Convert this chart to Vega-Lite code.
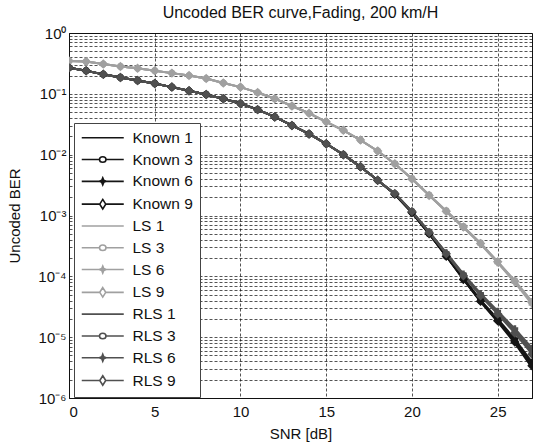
{
  "$schema": "https://vega.github.io/schema/vega-lite/v6.json",
  "width": 463,
  "height": 365,
  "autosize": {"type": "none"},
  "padding": {"left": 69, "top": 33, "right": 5, "bottom": 48},
  "background": "white",
  "title": {"text": "Uncoded BER curve,Fading, 200 km/H", "font": "Liberation Sans", "fontSize": 16, "fontWeight": "normal", "color": "#111", "offset": 5},
  "config": {
    "view": {"stroke": "#111", "strokeWidth": 1},
    "axis": {"labelFont": "Liberation Sans", "titleFont": "Liberation Sans", "labelFontSize": 15, "titleFontSize": 15, "titleFontWeight": "normal", "labelColor": "#111", "titleColor": "#111", "domainColor": "#111", "grid": true, "gridColor": "#111", "gridDash": [3, 2], "gridWidth": 0.8, "gridOpacity": 0.9, "ticks": false, "labelOverlap": false},
    "legend": {"labelFont": "Liberation Sans", "labelFontSize": 15.5, "labelColor": "#111"}
  },
  "data": {"values": [
    {"s":"Known 1","x":0,"y":0.269},{"s":"Known 1","x":1,"y":0.240},{"s":"Known 1","x":2,"y":0.209},{"s":"Known 1","x":3,"y":0.186},{"s":"Known 1","x":4,"y":0.166},{"s":"Known 1","x":5,"y":0.148},{"s":"Known 1","x":6,"y":0.129},{"s":"Known 1","x":7,"y":0.112},{"s":"Known 1","x":8,"y":0.0977},{"s":"Known 1","x":9,"y":0.0832},{"s":"Known 1","x":10,"y":0.0692},{"s":"Known 1","x":11,"y":0.0550},{"s":"Known 1","x":12,"y":0.0417},{"s":"Known 1","x":13,"y":0.0302},{"s":"Known 1","x":14,"y":0.0219},{"s":"Known 1","x":15,"y":0.0151},{"s":"Known 1","x":16,"y":0.0100},{"s":"Known 1","x":17,"y":0.00631},{"s":"Known 1","x":18,"y":0.00380},{"s":"Known 1","x":19,"y":0.00224},{"s":"Known 1","x":20,"y":0.00112},{"s":"Known 1","x":21,"y":5.01e-4},{"s":"Known 1","x":22,"y":2.14e-4},{"s":"Known 1","x":23,"y":8.91e-5},{"s":"Known 1","x":24,"y":3.80e-5},{"s":"Known 1","x":25,"y":1.78e-5},{"s":"Known 1","x":26,"y":7.94e-6},{"s":"Known 1","x":27,"y":3.16e-6},

    {"s":"Known 3","x":0,"y":0.269},{"s":"Known 3","x":1,"y":0.240},{"s":"Known 3","x":2,"y":0.209},{"s":"Known 3","x":3,"y":0.186},{"s":"Known 3","x":4,"y":0.166},{"s":"Known 3","x":5,"y":0.148},{"s":"Known 3","x":6,"y":0.129},{"s":"Known 3","x":7,"y":0.112},{"s":"Known 3","x":8,"y":0.0977},{"s":"Known 3","x":9,"y":0.0832},{"s":"Known 3","x":10,"y":0.0692},{"s":"Known 3","x":11,"y":0.0550},{"s":"Known 3","x":12,"y":0.0417},{"s":"Known 3","x":13,"y":0.0302},{"s":"Known 3","x":14,"y":0.0219},{"s":"Known 3","x":15,"y":0.0151},{"s":"Known 3","x":16,"y":0.0100},{"s":"Known 3","x":17,"y":0.00631},{"s":"Known 3","x":18,"y":0.00380},{"s":"Known 3","x":19,"y":0.00224},{"s":"Known 3","x":20,"y":0.00112},{"s":"Known 3","x":21,"y":5.01e-4},{"s":"Known 3","x":22,"y":2.14e-4},{"s":"Known 3","x":23,"y":9.12e-5},{"s":"Known 3","x":24,"y":3.98e-5},{"s":"Known 3","x":25,"y":1.91e-5},{"s":"Known 3","x":26,"y":8.71e-6},{"s":"Known 3","x":27,"y":3.63e-6},

    {"s":"Known 6","x":0,"y":0.269},{"s":"Known 6","x":1,"y":0.240},{"s":"Known 6","x":2,"y":0.209},{"s":"Known 6","x":3,"y":0.186},{"s":"Known 6","x":4,"y":0.166},{"s":"Known 6","x":5,"y":0.148},{"s":"Known 6","x":6,"y":0.129},{"s":"Known 6","x":7,"y":0.112},{"s":"Known 6","x":8,"y":0.0977},{"s":"Known 6","x":9,"y":0.0832},{"s":"Known 6","x":10,"y":0.0692},{"s":"Known 6","x":11,"y":0.0550},{"s":"Known 6","x":12,"y":0.0417},{"s":"Known 6","x":13,"y":0.0302},{"s":"Known 6","x":14,"y":0.0219},{"s":"Known 6","x":15,"y":0.0151},{"s":"Known 6","x":16,"y":0.0100},{"s":"Known 6","x":17,"y":0.00631},{"s":"Known 6","x":18,"y":0.00380},{"s":"Known 6","x":19,"y":0.00224},{"s":"Known 6","x":20,"y":0.00112},{"s":"Known 6","x":21,"y":5.01e-4},{"s":"Known 6","x":22,"y":2.19e-4},{"s":"Known 6","x":23,"y":9.33e-5},{"s":"Known 6","x":24,"y":4.07e-5},{"s":"Known 6","x":25,"y":2.00e-5},{"s":"Known 6","x":26,"y":9.33e-6},{"s":"Known 6","x":27,"y":3.89e-6},

    {"s":"Known 9","x":0,"y":0.269},{"s":"Known 9","x":1,"y":0.240},{"s":"Known 9","x":2,"y":0.209},{"s":"Known 9","x":3,"y":0.186},{"s":"Known 9","x":4,"y":0.166},{"s":"Known 9","x":5,"y":0.148},{"s":"Known 9","x":6,"y":0.129},{"s":"Known 9","x":7,"y":0.112},{"s":"Known 9","x":8,"y":0.0977},{"s":"Known 9","x":9,"y":0.0832},{"s":"Known 9","x":10,"y":0.0692},{"s":"Known 9","x":11,"y":0.0550},{"s":"Known 9","x":12,"y":0.0417},{"s":"Known 9","x":13,"y":0.0302},{"s":"Known 9","x":14,"y":0.0219},{"s":"Known 9","x":15,"y":0.0151},{"s":"Known 9","x":16,"y":0.0100},{"s":"Known 9","x":17,"y":0.00631},{"s":"Known 9","x":18,"y":0.00380},{"s":"Known 9","x":19,"y":0.00224},{"s":"Known 9","x":20,"y":0.00112},{"s":"Known 9","x":21,"y":5.01e-4},{"s":"Known 9","x":22,"y":2.14e-4},{"s":"Known 9","x":23,"y":8.91e-5},{"s":"Known 9","x":24,"y":3.89e-5},{"s":"Known 9","x":25,"y":1.86e-5},{"s":"Known 9","x":26,"y":8.32e-6},{"s":"Known 9","x":27,"y":3.39e-6},

    {"s":"LS 1","x":0,"y":0.347},{"s":"LS 1","x":1,"y":0.339},{"s":"LS 1","x":2,"y":0.309},{"s":"LS 1","x":3,"y":0.282},{"s":"LS 1","x":4,"y":0.263},{"s":"LS 1","x":5,"y":0.240},{"s":"LS 1","x":6,"y":0.219},{"s":"LS 1","x":7,"y":0.200},{"s":"LS 1","x":8,"y":0.178},{"s":"LS 1","x":9,"y":0.151},{"s":"LS 1","x":10,"y":0.129},{"s":"LS 1","x":11,"y":0.105},{"s":"LS 1","x":12,"y":0.0832},{"s":"LS 1","x":13,"y":0.0631},{"s":"LS 1","x":14,"y":0.0479},{"s":"LS 1","x":15,"y":0.0347},{"s":"LS 1","x":16,"y":0.0251},{"s":"LS 1","x":17,"y":0.0174},{"s":"LS 1","x":18,"y":0.0115},{"s":"LS 1","x":19,"y":0.00708},{"s":"LS 1","x":20,"y":0.00398},{"s":"LS 1","x":21,"y":0.00214},{"s":"LS 1","x":22,"y":0.00117},{"s":"LS 1","x":23,"y":6.46e-4},{"s":"LS 1","x":24,"y":3.47e-4},{"s":"LS 1","x":25,"y":1.70e-4},{"s":"LS 1","x":26,"y":8.13e-5},{"s":"LS 1","x":27,"y":3.63e-5},

    {"s":"LS 3","x":0,"y":0.347},{"s":"LS 3","x":1,"y":0.339},{"s":"LS 3","x":2,"y":0.309},{"s":"LS 3","x":3,"y":0.282},{"s":"LS 3","x":4,"y":0.263},{"s":"LS 3","x":5,"y":0.240},{"s":"LS 3","x":6,"y":0.219},{"s":"LS 3","x":7,"y":0.200},{"s":"LS 3","x":8,"y":0.178},{"s":"LS 3","x":9,"y":0.151},{"s":"LS 3","x":10,"y":0.129},{"s":"LS 3","x":11,"y":0.105},{"s":"LS 3","x":12,"y":0.0832},{"s":"LS 3","x":13,"y":0.0631},{"s":"LS 3","x":14,"y":0.0479},{"s":"LS 3","x":15,"y":0.0347},{"s":"LS 3","x":16,"y":0.0251},{"s":"LS 3","x":17,"y":0.0174},{"s":"LS 3","x":18,"y":0.0115},{"s":"LS 3","x":19,"y":0.00708},{"s":"LS 3","x":20,"y":0.00407},{"s":"LS 3","x":21,"y":0.00219},{"s":"LS 3","x":22,"y":0.00120},{"s":"LS 3","x":23,"y":6.61e-4},{"s":"LS 3","x":24,"y":3.55e-4},{"s":"LS 3","x":25,"y":1.74e-4},{"s":"LS 3","x":26,"y":8.51e-5},{"s":"LS 3","x":27,"y":3.89e-5},

    {"s":"LS 6","x":0,"y":0.347},{"s":"LS 6","x":1,"y":0.339},{"s":"LS 6","x":2,"y":0.309},{"s":"LS 6","x":3,"y":0.282},{"s":"LS 6","x":4,"y":0.263},{"s":"LS 6","x":5,"y":0.240},{"s":"LS 6","x":6,"y":0.219},{"s":"LS 6","x":7,"y":0.200},{"s":"LS 6","x":8,"y":0.178},{"s":"LS 6","x":9,"y":0.151},{"s":"LS 6","x":10,"y":0.129},{"s":"LS 6","x":11,"y":0.105},{"s":"LS 6","x":12,"y":0.0832},{"s":"LS 6","x":13,"y":0.0631},{"s":"LS 6","x":14,"y":0.0479},{"s":"LS 6","x":15,"y":0.0347},{"s":"LS 6","x":16,"y":0.0251},{"s":"LS 6","x":17,"y":0.0174},{"s":"LS 6","x":18,"y":0.0115},{"s":"LS 6","x":19,"y":0.00708},{"s":"LS 6","x":20,"y":0.00398},{"s":"LS 6","x":21,"y":0.00214},{"s":"LS 6","x":22,"y":0.00115},{"s":"LS 6","x":23,"y":6.31e-4},{"s":"LS 6","x":24,"y":3.39e-4},{"s":"LS 6","x":25,"y":1.66e-4},{"s":"LS 6","x":26,"y":7.94e-5},{"s":"LS 6","x":27,"y":3.47e-5},

    {"s":"LS 9","x":0,"y":0.347},{"s":"LS 9","x":1,"y":0.339},{"s":"LS 9","x":2,"y":0.309},{"s":"LS 9","x":3,"y":0.282},{"s":"LS 9","x":4,"y":0.263},{"s":"LS 9","x":5,"y":0.240},{"s":"LS 9","x":6,"y":0.219},{"s":"LS 9","x":7,"y":0.200},{"s":"LS 9","x":8,"y":0.178},{"s":"LS 9","x":9,"y":0.151},{"s":"LS 9","x":10,"y":0.129},{"s":"LS 9","x":11,"y":0.105},{"s":"LS 9","x":12,"y":0.0832},{"s":"LS 9","x":13,"y":0.0631},{"s":"LS 9","x":14,"y":0.0479},{"s":"LS 9","x":15,"y":0.0347},{"s":"LS 9","x":16,"y":0.0251},{"s":"LS 9","x":17,"y":0.0174},{"s":"LS 9","x":18,"y":0.0115},{"s":"LS 9","x":19,"y":0.00708},{"s":"LS 9","x":20,"y":0.00398},{"s":"LS 9","x":21,"y":0.00214},{"s":"LS 9","x":22,"y":0.00117},{"s":"LS 9","x":23,"y":6.46e-4},{"s":"LS 9","x":24,"y":3.47e-4},{"s":"LS 9","x":25,"y":1.74e-4},{"s":"LS 9","x":26,"y":8.32e-5},{"s":"LS 9","x":27,"y":3.72e-5},

    {"s":"RLS 1","x":0,"y":0.269},{"s":"RLS 1","x":1,"y":0.240},{"s":"RLS 1","x":2,"y":0.209},{"s":"RLS 1","x":3,"y":0.186},{"s":"RLS 1","x":4,"y":0.166},{"s":"RLS 1","x":5,"y":0.148},{"s":"RLS 1","x":6,"y":0.129},{"s":"RLS 1","x":7,"y":0.112},{"s":"RLS 1","x":8,"y":0.0977},{"s":"RLS 1","x":9,"y":0.0832},{"s":"RLS 1","x":10,"y":0.0692},{"s":"RLS 1","x":11,"y":0.0550},{"s":"RLS 1","x":12,"y":0.0417},{"s":"RLS 1","x":13,"y":0.0302},{"s":"RLS 1","x":14,"y":0.0219},{"s":"RLS 1","x":15,"y":0.0151},{"s":"RLS 1","x":16,"y":0.0100},{"s":"RLS 1","x":17,"y":0.00631},{"s":"RLS 1","x":18,"y":0.00380},{"s":"RLS 1","x":19,"y":0.00229},{"s":"RLS 1","x":20,"y":0.00117},{"s":"RLS 1","x":21,"y":5.37e-4},{"s":"RLS 1","x":22,"y":2.40e-4},{"s":"RLS 1","x":23,"y":1.07e-4},{"s":"RLS 1","x":24,"y":5.01e-5},{"s":"RLS 1","x":25,"y":2.57e-5},{"s":"RLS 1","x":26,"y":1.29e-5},{"s":"RLS 1","x":27,"y":6.03e-6},

    {"s":"RLS 3","x":0,"y":0.269},{"s":"RLS 3","x":1,"y":0.240},{"s":"RLS 3","x":2,"y":0.209},{"s":"RLS 3","x":3,"y":0.186},{"s":"RLS 3","x":4,"y":0.166},{"s":"RLS 3","x":5,"y":0.148},{"s":"RLS 3","x":6,"y":0.129},{"s":"RLS 3","x":7,"y":0.112},{"s":"RLS 3","x":8,"y":0.0977},{"s":"RLS 3","x":9,"y":0.0832},{"s":"RLS 3","x":10,"y":0.0692},{"s":"RLS 3","x":11,"y":0.0550},{"s":"RLS 3","x":12,"y":0.0417},{"s":"RLS 3","x":13,"y":0.0302},{"s":"RLS 3","x":14,"y":0.0219},{"s":"RLS 3","x":15,"y":0.0151},{"s":"RLS 3","x":16,"y":0.0100},{"s":"RLS 3","x":17,"y":0.00631},{"s":"RLS 3","x":18,"y":0.00380},{"s":"RLS 3","x":19,"y":0.00229},{"s":"RLS 3","x":20,"y":0.00117},{"s":"RLS 3","x":21,"y":5.37e-4},{"s":"RLS 3","x":22,"y":2.34e-4},{"s":"RLS 3","x":23,"y":1.05e-4},{"s":"RLS 3","x":24,"y":4.90e-5},{"s":"RLS 3","x":25,"y":2.45e-5},{"s":"RLS 3","x":26,"y":1.23e-5},{"s":"RLS 3","x":27,"y":5.62e-6},

    {"s":"RLS 6","x":0,"y":0.269},{"s":"RLS 6","x":1,"y":0.240},{"s":"RLS 6","x":2,"y":0.209},{"s":"RLS 6","x":3,"y":0.186},{"s":"RLS 6","x":4,"y":0.166},{"s":"RLS 6","x":5,"y":0.148},{"s":"RLS 6","x":6,"y":0.129},{"s":"RLS 6","x":7,"y":0.112},{"s":"RLS 6","x":8,"y":0.0977},{"s":"RLS 6","x":9,"y":0.0832},{"s":"RLS 6","x":10,"y":0.0692},{"s":"RLS 6","x":11,"y":0.0550},{"s":"RLS 6","x":12,"y":0.0417},{"s":"RLS 6","x":13,"y":0.0302},{"s":"RLS 6","x":14,"y":0.0219},{"s":"RLS 6","x":15,"y":0.0151},{"s":"RLS 6","x":16,"y":0.0100},{"s":"RLS 6","x":17,"y":0.00631},{"s":"RLS 6","x":18,"y":0.00380},{"s":"RLS 6","x":19,"y":0.00229},{"s":"RLS 6","x":20,"y":0.00117},{"s":"RLS 6","x":21,"y":5.37e-4},{"s":"RLS 6","x":22,"y":2.45e-4},{"s":"RLS 6","x":23,"y":1.10e-4},{"s":"RLS 6","x":24,"y":5.25e-5},{"s":"RLS 6","x":25,"y":2.69e-5},{"s":"RLS 6","x":26,"y":1.38e-5},{"s":"RLS 6","x":27,"y":6.61e-6},

    {"s":"RLS 9","x":0,"y":0.269},{"s":"RLS 9","x":1,"y":0.240},{"s":"RLS 9","x":2,"y":0.209},{"s":"RLS 9","x":3,"y":0.186},{"s":"RLS 9","x":4,"y":0.166},{"s":"RLS 9","x":5,"y":0.148},{"s":"RLS 9","x":6,"y":0.129},{"s":"RLS 9","x":7,"y":0.112},{"s":"RLS 9","x":8,"y":0.0977},{"s":"RLS 9","x":9,"y":0.0832},{"s":"RLS 9","x":10,"y":0.0692},{"s":"RLS 9","x":11,"y":0.0550},{"s":"RLS 9","x":12,"y":0.0417},{"s":"RLS 9","x":13,"y":0.0302},{"s":"RLS 9","x":14,"y":0.0219},{"s":"RLS 9","x":15,"y":0.0151},{"s":"RLS 9","x":16,"y":0.0100},{"s":"RLS 9","x":17,"y":0.00631},{"s":"RLS 9","x":18,"y":0.00380},{"s":"RLS 9","x":19,"y":0.00229},{"s":"RLS 9","x":20,"y":0.00116},{"s":"RLS 9","x":21,"y":5.25e-4},{"s":"RLS 9","x":22,"y":2.34e-4},{"s":"RLS 9","x":23,"y":1.02e-4},{"s":"RLS 9","x":24,"y":4.79e-5},{"s":"RLS 9","x":25,"y":2.40e-5},{"s":"RLS 9","x":26,"y":1.17e-5},{"s":"RLS 9","x":27,"y":5.25e-6}
  ]},
  "encoding": {
    "x": {"field": "x", "type": "quantitative", "title": "SNR [dB]",
      "scale": {"domain": [0, 27], "nice": false, "zero": false},
      "axis": {"values": [0, 5, 10, 15, 20, 25], "labelPadding": 6, "titlePadding": 7}},
    "y": {"field": "y", "type": "quantitative", "title": "Uncoded BER",
      "scale": {"type": "log", "domain": [1e-6, 1], "nice": false},
      "axis": {"values": [1e-6,2e-6,3e-6,4e-6,5e-6,6e-6,7e-6,8e-6,9e-6,1e-5,2e-5,3e-5,4e-5,5e-5,6e-5,7e-5,8e-5,9e-5,1e-4,2e-4,3e-4,4e-4,5e-4,6e-4,7e-4,8e-4,9e-4,1e-3,2e-3,3e-3,4e-3,5e-3,6e-3,7e-3,8e-3,9e-3,0.01,0.02,0.03,0.04,0.05,0.06,0.07,0.08,0.09,0.1,0.2,0.3,0.4,0.5,0.6,0.7,0.8,0.9,1],
        "labelExpr": "abs(log(datum.value)/LN10 - round(log(datum.value)/LN10)) < 0.001 ? '10' + (round(log(datum.value)/LN10) == 0 ? '⁰' : '⁻' + substring('⁰¹²³⁴⁵⁶', -round(log(datum.value)/LN10), -round(log(datum.value)/LN10) + 1)) : ''",
        "labelPadding": 3, "titlePadding": 15, "labelFontSize": 15}},
    "color": {"field": "s", "type": "nominal",
      "scale": {"domain": ["Known 1","Known 3","Known 6","Known 9","LS 1","LS 3","LS 6","LS 9","RLS 1","RLS 3","RLS 6","RLS 9"],
                "range": ["#151515","#151515","#151515","#151515","#a0a0a0","#a0a0a0","#a0a0a0","#a0a0a0","#505050","#505050","#505050","#505050"]}}
  },
  "layer": [
    {"mark": {"type": "line", "strokeWidth": 2, "clip": true},
     "encoding": {"color": {"field": "s", "type": "nominal", "title": null,
       "legend": {"orient": "none", "legendX": 5, "legendY": 90, "fillColor": "white", "strokeColor": "#444", "padding": 7, "symbolSize": 100, "rowPadding": 4.8, "symbolOffset": 14, "labelOffset": 22, "symbolStrokeWidth": 1.6,
         "encode": {"symbols": {"update": {
           "shape": {"signal": "indexof(datum.value,'9')>=0 ? 'M-4.2,0H-0.6M0.6,0H4.2M0,-0.95L0.6,0L0,0.95L-0.6,0Z' : indexof(datum.value,'6')>=0 ? 'M-4.2,0H4.2M0,-0.7L0.2,-0.2L0.7,0L0.2,0.2L0,0.7L-0.2,0.2L-0.7,0L-0.2,-0.2Z' : indexof(datum.value,'3')>=0 ? 'M-4.2,0H-0.65M0.65,0H4.2M-0.65,0A0.65,0.55 0 1,0 0.65,0A0.65,0.55 0 1,0 -0.65,0' : 'M-4.2,0H4.2'"},
           "fill": {"signal": "indexof(datum.value,'6')>=0 ? scale('color', datum.value) : 'white'"},
           "fillOpacity": {"signal": "indexof(datum.value,'6')>=0 ? 1 : 0"},
           "stroke": {"signal": "scale('color', datum.value)"},
           "strokeWidth": {"value": 1.6},
           "size": {"value": 100},
           "opacity": {"value": 1}
         }}}}}}},
    {"transform": [{"filter": "indexof(datum.s,'3')>=0"}],
     "mark": {"type": "point", "shape": "circle", "filled": true, "size": 45, "opacity": 1, "clip": true}},
    {"transform": [{"filter": "indexof(datum.s,'6')>=0"}],
     "mark": {"type": "point", "shape": "cross", "filled": true, "size": 45, "opacity": 1, "clip": true}},
    {"transform": [{"filter": "indexof(datum.s,'9')>=0"}],
     "mark": {"type": "point", "shape": "diamond", "filled": true, "size": 90, "opacity": 1, "clip": true}}
  ]
}
